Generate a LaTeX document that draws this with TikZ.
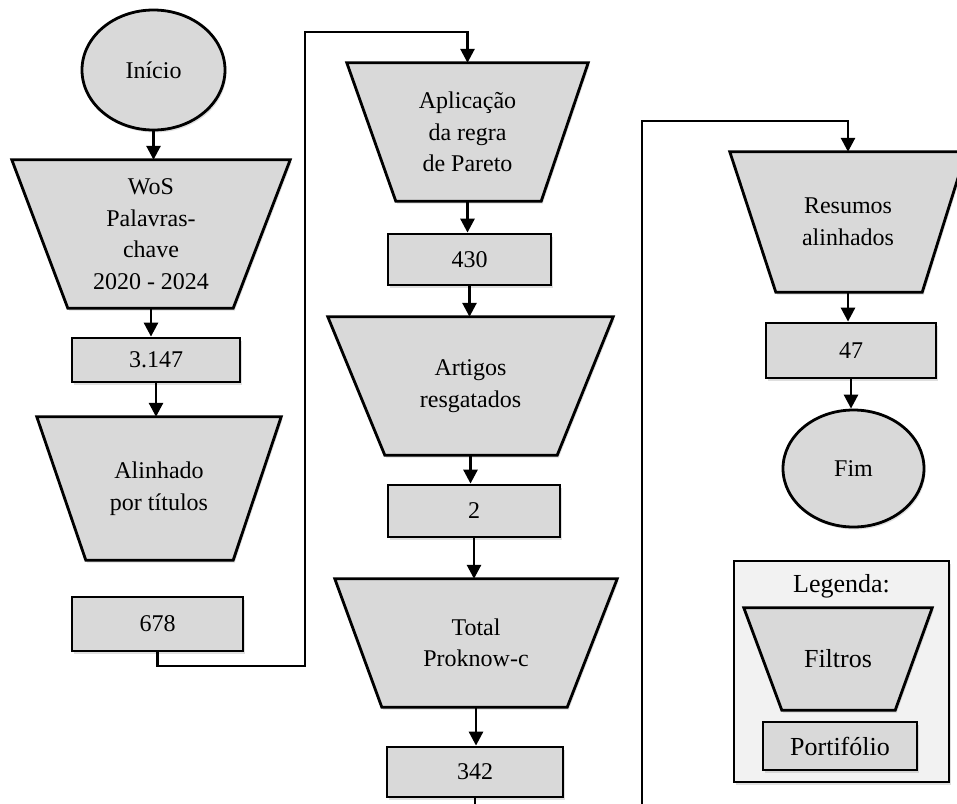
\documentclass[tikz,border=0pt]{standalone}
\usepackage{fontspec}
\setmainfont{Liberation Serif}
\usetikzlibrary{arrows.meta,calc,shadows,shapes.geometric}
\pgfdeclarelayer{bgzero}\pgfdeclarelayer{bgone}
\pgfsetlayers{bgzero,bgone,main}
\definecolor{boxgray}{HTML}{D9D9D9}
\definecolor{leggray}{HTML}{F2F2F2}
\tikzset{
  shd/.style={drop shadow={opacity=0.25, shadow xshift=1.5pt, shadow yshift=-2.5pt}},
  shapefill/.style={fill=boxgray, draw=black, line width=2.8pt, line join=miter, shd},
  txt/.style={font=\fontsize{24}{31.5}\selectfont, align=center, text=black},
  trapbox/.style={rectangle, inner sep=0pt, txt},
  numbox/.style={rectangle, draw=black, fill=boxgray, line width=2.8pt, inner sep=0pt, txt, shd},
  ovalbox/.style={ellipse, draw=black, fill=boxgray, line width=2.8pt, inner sep=0pt, txt, shd},
  arr/.style={line width=2.8pt, -{Triangle[width=14pt,length=14pt]}},
}
\newcommand\mytrap[3]{%
  \begin{pgfonlayer}{bgone}
  \path[shapefill] (#1.north west) -- (#1.north east) -- ($(#1.south east)+(-#3,0)$) -- ($(#1.south west)+(#2,0)$) -- cycle;
  \end{pgfonlayer}}
\begin{document}
\begin{tikzpicture}[x=1pt,y=-1pt]
\useasboundingbox (0,0) rectangle (957,803);

% column 1
\node[ovalbox, minimum width=143pt, minimum height=120pt] (inicio) at (153.5,70) {Início};
\node[trapbox, minimum width=278pt, minimum height=148pt] (wos) at (151,234) {WoS\\Palavras-\\chave\\2020 - 2024};
\mytrap{wos}{56}{57}
\node[numbox, minimum width=168pt, minimum height=44pt] (b3147) at (156,360) {3.147};
\node[trapbox, minimum width=244pt, minimum height=143pt] (alin) at (159,488.5) {Alinhado\\por títulos};
\mytrap{alin}{49}{48}
\node[numbox, minimum width=171pt, minimum height=54pt] (b678) at (157.5,624) {678};

% column 2
\node[trapbox, minimum width=241pt, minimum height=138pt] (apl) at (467.5,132) {Aplicação\\da regra\\de Pareto};
\mytrap{apl}{49}{47}
\node[numbox, minimum width=163pt, minimum height=51pt] (b430) at (469.5,259.5) {430};
\node[trapbox, minimum width=285pt, minimum height=138pt] (art) at (470.5,386) {Artigos\\resgatados};
\mytrap{art}{57}{56}
\node[numbox, minimum width=172pt, minimum height=52pt] (b2) at (474,511) {2};
\node[trapbox, minimum width=282pt, minimum height=128pt] (tot) at (476,643) {Total\\Proknow-c};
\mytrap{tot}{47}{50}
\node[numbox, minimum width=176pt, minimum height=50pt] (b342) at (475,772) {342};

% column 3
\node[trapbox, minimum width=236pt, minimum height=140pt] (res) at (848,222) {Resumos\\alinhados};
\mytrap{res}{46}{44}
\node[numbox, minimum width=170pt, minimum height=55pt] (b47) at (851,350.5) {47};
\node[ovalbox, minimum width=141pt, minimum height=117pt] (fim) at (853.5,468.5) {Fim};

% legend
\begin{pgfonlayer}{bgzero}
\node[rectangle, draw=black, fill=leggray, line width=2.8pt, minimum width=215pt, minimum height=221pt, shd] (legbox) at (841.5,671.5) {};
\end{pgfonlayer}
\node[txt, font=\fontsize{26}{31}\selectfont] (legtitle) at (841.5,586) {Legenda:};
\node[trapbox, font=\fontsize{26}{31}\selectfont, minimum width=188pt, minimum height=102pt] (filt) at (838,659) {Filtros};
\mytrap{filt}{38}{37}
\node[numbox, font=\fontsize{26}{31}\selectfont, minimum width=154pt, minimum height=48pt] (bport) at (840,746) {Portifólio};

% arrows
\draw[arr] (inicio.south) -- (inicio.south |- wos.north);
\draw[arr] (wos.south) -- (wos.south |- b3147.north);
\draw[arr] (b3147.south) -- (b3147.south |- alin.north);
\draw[arr] (apl.south) -- (apl.south |- b430.north);
\draw[arr] (b430.south) -- (b430.south |- art.north);
\draw[arr] (art.south) -- (art.south |- b2.north);
\draw[arr] (b2.south) -- (b2.south |- tot.north);
\draw[arr] (tot.south) -- (tot.south |- b342.north);
\draw[arr] (res.south) -- (res.south |- b47.north);
\draw[arr] (b47.south) -- (b47.south |- fim.north);

% long connectors
\coordinate (k1) at (305,666);
\coordinate (k2) at (305,32);
\draw[arr, line join=miter] (b678.south) |- (k1) -- (k2) -| (apl.north);
\coordinate (k3) at (642,815);
\coordinate (k4) at (642,121);
\draw[arr, line join=miter] (b342.south) |- (k3) -- (k4) -| (res.north);
\end{tikzpicture}
\end{document}
